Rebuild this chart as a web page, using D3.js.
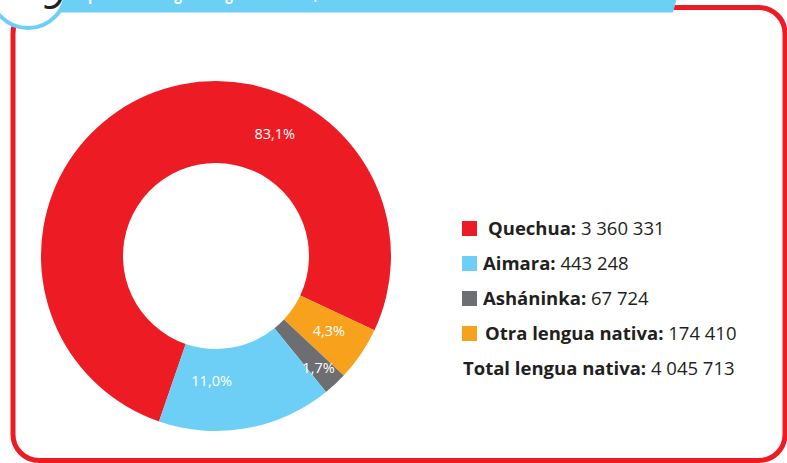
<!DOCTYPE html>
<html>
<head>
<meta charset="utf-8">
<script src="https://cdn.jsdelivr.net/npm/d3@7"></script>
<style>
  html, body { margin: 0; padding: 0; background: #fff; }
  svg { display: block; }
</style>
</head>
<body>
<div id="chart"></div>
<script>
// Datos
const lenguas = ["Quechua", "Aimara", "Asháninka", "Otra lengua nativa"]
const hablantes = ["3 360 331", "443 248", "67 724", "174 410"]
const porcentajes = ["83,1%", "11,0%", "1,7%", "4,3%"]
// Tamaño de cada sector tal como está dibujado (grados del anillo / 3,6)
const sectorDibujado = [76.7, 16.1, 2.2, 5.0]
// Orden de los sectores en sentido horario
const ordenHorario = ["Quechua", "Otra lengua nativa", "Asháninka", "Aimara"]
const totalEtiqueta = "Total lengua nativa:"
const totalValor = "4 045 713"
const titulo = "población según lengua materna, 2017"

const COLORES = {
  "Quechua": "#ed1c24",
  "Aimara": "#6dcff6",
  "Asháninka": "#6d6e71",
  "Otra lengua nativa": "#f8a11d"
}

const W = 787, H = 463
const RED = "#ed1c24", BLUE = "#6dcff6", INK = "#231f20"
const fontFam = "'Open Sans', 'Noto Sans', sans-serif"

const svg = d3.select("#chart").append("svg")
  .attr("width", W)
  .attr("height", H)

// Marco rojo redondeado
svg.append("rect")
  .attr("x", 13).attr("y", 7.5)
  .attr("width", 772).attr("height", 453)
  .attr("rx", 26).attr("ry", 26)
  .attr("fill", "none")
  .attr("stroke", RED)
  .attr("stroke-width", 5)

// Cinta azul del título (cortada arriba)
svg.append("path")
  .attr("d", "M40,-20 L682,-20 L673,12.5 L40,12.5 Z")
  .attr("fill", BLUE)

svg.append("text")
  .attr("x", 88).attr("y", 0)
  .attr("fill", "#fff")
  .attr("font-family", fontFam)
  .attr("font-weight", 700)
  .attr("font-size", 16)
  .attr("textLength", 265)
  .attr("lengthAdjust", "spacingAndGlyphs")
  .text(titulo)

// Círculo con el número
svg.append("circle")
  .attr("cx", 28).attr("cy", -10).attr("r", 38)
  .attr("fill", "#fff")
  .attr("stroke", BLUE)
  .attr("stroke-width", 4)

svg.append("text")
  .attr("x", 54).attr("y", 9)
  .attr("text-anchor", "middle")
  .attr("fill", INK)
  .attr("font-family", fontFam)
  .attr("font-style", "italic")
  .attr("font-size", 42)
  .text("9")

// Anillo
const cx = 216, cy = 256
const rOut = 175, rIn = 93

const datos = ordenHorario.map(n => {
  const i = lenguas.indexOf(n)
  return { nombre: n, valor: sectorDibujado[i], pct: porcentajes[i] }
})

const startDeg = -161
const pie = d3.pie()
  .sort(null)
  .value(d => d.valor)
  .startAngle(startDeg * Math.PI / 180)
  .endAngle((startDeg + 360) * Math.PI / 180)

const arc = d3.arc().innerRadius(rIn).outerRadius(rOut)

const g = svg.append("g").attr("transform", `translate(${cx},${cy})`)

const arcos = pie(datos)

g.selectAll("path.sector")
  .data(arcos)
  .enter().append("path")
  .attr("class", "sector")
  .attr("d", arc)
  .attr("fill", d => COLORES[d.data.nombre])

// Posición de las etiquetas de porcentaje: [ángulo en grados, radio]
const POS_ETIQUETA = {
  "Quechua": [25.6, 136],
  "Otra lengua nativa": null,
  "Asháninka": [137.6, 152],
  "Aimara": [182, 125]
}

g.selectAll("text.pct")
  .data(arcos)
  .enter().append("text")
  .attr("class", "pct")
  .attr("transform", d => {
    const p = POS_ETIQUETA[d.data.nombre]
    if (!p) {
      const c = arc.centroid(d)
      return `translate(${c[0] + 2},${c[1]})`
    }
    const a = p[0] * Math.PI / 180
    return `translate(${Math.sin(a) * p[1]},${-Math.cos(a) * p[1]})`
  })
  .attr("text-anchor", "middle")
  .attr("dy", "0.36em")
  .attr("fill", "#fff")
  .attr("font-family", fontFam)
  .attr("font-weight", 400)
  .attr("font-size", 14.5)
  .text(d => d.data.pct)

// Leyenda
const leyendaX = 462
const fs = 18.5
const filaY = d3.scaleBand()
  .domain(d3.range(lenguas.length + 1))
  .range([211, 386])

lenguas.forEach((n, i) => {
  const yc = filaY(i) + filaY.bandwidth() / 2
  svg.append("rect")
    .attr("x", leyendaX).attr("y", yc - 7.5)
    .attr("width", 15).attr("height", 15)
    .attr("fill", COLORES[n])
  const t = svg.append("text")
    .attr("x", i === 0 ? 488 : (i === 3 ? 485 : 483))
    .attr("y", yc + 6.5)
    .attr("fill", INK)
    .attr("font-family", fontFam)
    .attr("font-size", fs)
  t.append("tspan").attr("font-weight", 700).text(n + ": ")
  t.append("tspan").attr("font-weight", 400).text(hablantes[i])
})

const yt = filaY(lenguas.length) + filaY.bandwidth() / 2
const tt = svg.append("text")
  .attr("x", 463).attr("y", yt + 6.5)
  .attr("fill", INK)
  .attr("font-family", fontFam)
  .attr("font-size", fs)
tt.append("tspan").attr("font-weight", 700).text(totalEtiqueta + " ")
tt.append("tspan").attr("font-weight", 400).text(totalValor)
</script>
</body>
</html>
